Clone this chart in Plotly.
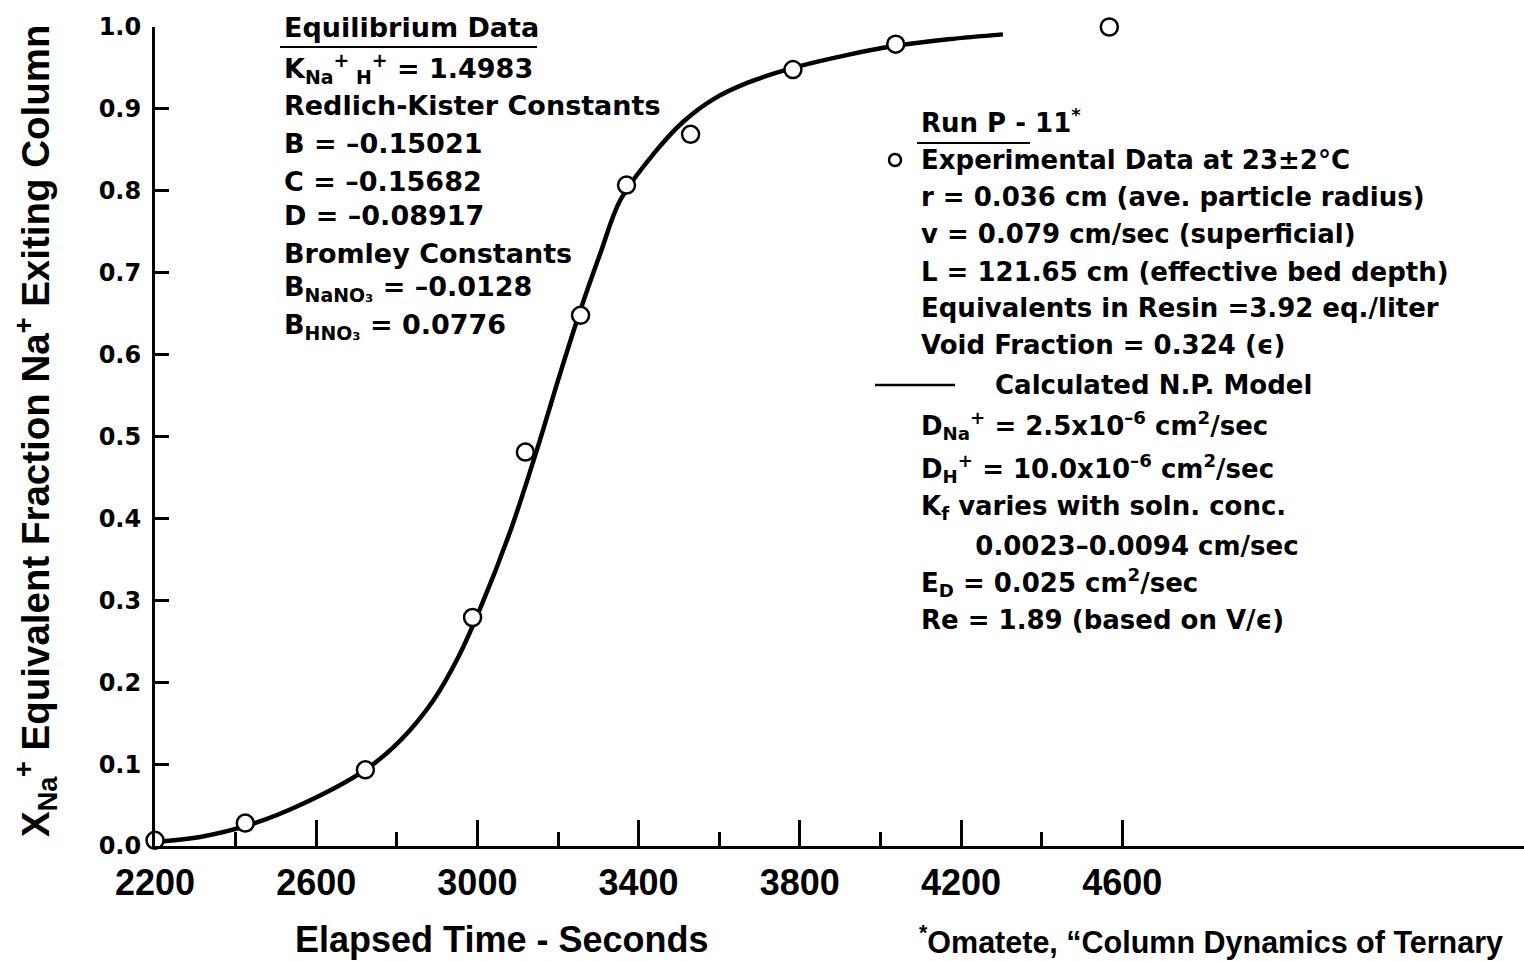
import plotly.graph_objects as go

# experimental breakthrough points (Run P-11)
exp_time = [2200, 2424, 2722, 2988, 3119, 3256, 3370, 3529, 3783, 4038, 4568]
exp_frac = [0.007, 0.028, 0.093, 0.279, 0.481, 0.648, 0.807, 0.869, 0.948, 0.979, 1.0]

# calculated N.P. model curve
calc_time = [2200, 2312, 2436, 2560, 2722, 2809, 2891, 2953, 3007, 3082, 3144, 3206,
             3254, 3306, 3355, 3437, 3510, 3586, 3671, 3783, 3919, 4038, 4168, 4304]
calc_frac = [0.005, 0.011, 0.026, 0.050, 0.093, 0.129, 0.178, 0.231, 0.290, 0.385, 0.478, 0.578,
             0.652, 0.725, 0.789, 0.845, 0.884, 0.912, 0.932, 0.950, 0.966, 0.977, 0.985, 0.991]

x_major = [2200, 2600, 3000, 3400, 3800, 4200, 4600]
x_minor = [2400, 2800, 3200, 3600, 4000, 4400]
y_ticks = [0.0, 0.1, 0.2, 0.3, 0.4, 0.5, 0.6, 0.7, 0.8, 0.9, 1.0]

eq_title = "Equilibrium Data"
eq_lines = [
    "K<sub>Na</sub><sup>+</sup><sub> H</sub><sup>+</sup> = 1.4983",
    "Redlich-Kister Constants",
    "B = –0.15021",
    "C = –0.15682",
    "D = –0.08917",
    "Bromley Constants",
    "B<sub>NaNO₃</sub> = –0.0128",
    "B<sub>HNO₃</sub> = 0.0776",
]

run_title = "Run P - 11<sup>*</sup>"
run_lines = [
    "Experimental Data at 23±2°C",
    "r = 0.036 cm (ave. particle radius)",
    "v = 0.079 cm/sec (superficial)",
    "L = 121.65 cm (effective bed depth)",
    "Equivalents in Resin =3.92 eq./liter",
    "Void Fraction = 0.324 (ϵ)",
]
model_label = "Calculated N.P. Model"
model_lines = [
    "D<sub>Na</sub><sup>+</sup> = 2.5x10<sup>–6</sup> cm<sup>2</sup>/sec",
    "D<sub>H</sub><sup>+</sup> = 10.0x10<sup>–6</sup> cm<sup>2</sup>/sec",
    "K<sub>f</sub> varies with soln. conc.",
    "      0.0023–0.0094 cm/sec",
    "E<sub>D</sub> = 0.025 cm<sup>2</sup>/sec",
    "Re = 1.89 (based on V/ϵ)",
]
footnote = "<sup>*</sup>Omatete, “Column Dynamics of Ternary"

W, H = 1524, 961
L, R, T, B = 155, 0, 27, 115


def px(x):
    return (x - L) / (W - L - R)


def py(y):
    return (H - B - y) / (H - B - T)


WIDE = "DejaVu Sans"
ARIAL = "Liberation Sans"

fig = go.Figure()
fig.add_trace(go.Scatter(
    x=calc_time, y=calc_frac, mode="lines", line=dict(color="black", width=4.5, shape="spline"),
    showlegend=False, hoverinfo="skip"))
fig.add_trace(go.Scatter(
    x=exp_time, y=exp_frac, mode="markers", cliponaxis=False,
    marker=dict(symbol="circle", size=17, color="white", line=dict(color="black", width=2.5)),
    showlegend=False))

ann = []


def txt(x, y, s, size=27, family=WIDE, **kw):
    ann.append(dict(xref="paper", yref="paper", x=px(x), y=py(y), text="<b>" + s + "</b>",
                    showarrow=False, xanchor="left", yanchor="middle",
                    font=dict(family=family, size=size, color="black"), **kw))


txt(282, 27, eq_title)
for i, s in enumerate(eq_lines):
    txt(282, [68, 106, 143, 181, 216, 253, 288, 326][i], s)

txt(919, 121, run_title, size=26)
for i, s in enumerate(run_lines):
    txt(919, [160, 197, 234, 272, 308, 345][i], s, size=26)
txt(993, 385, model_label, size=26)
for i, s in enumerate(model_lines):
    txt(919, [425, 468, 507, 546, 582, 620][i], s, size=26)

# axis titles and footnote
ann.append(dict(xref="paper", yref="paper", x=px(501), y=py(939), showarrow=False,
                text="<b>Elapsed Time - Seconds</b>", xanchor="center", yanchor="middle",
                font=dict(family=ARIAL, size=36, color="black")))
ann.append(dict(xref="paper", yref="paper", x=px(36), y=py(431), showarrow=False, textangle=-90,
                text="<b>X<sub>Na</sub><sup>+</sup> Equivalent Fraction Na<sup>+</sup> Exiting Column</b>",
                xanchor="center", yanchor="middle",
                font=dict(family=ARIAL, size=38.5, color="black")))
ann.append(dict(xref="paper", yref="paper", x=px(917), y=py(940), showarrow=False,
                text="<b>" + footnote + "</b>", xanchor="left", yanchor="middle",
                font=dict(family=ARIAL, size=30.5, color="black")))

shapes = [
    dict(type="line", xref="paper", yref="paper", x0=px(280), x1=px(537), y0=py(47), y1=py(47),
         line=dict(color="black", width=2)),
    dict(type="line", xref="paper", yref="paper", x0=px(917), x1=px(1030), y0=py(143), y1=py(143),
         line=dict(color="black", width=2)),
    dict(type="line", xref="paper", yref="paper", x0=px(875), x1=px(955), y0=py(385), y1=py(385),
         line=dict(color="black", width=2.5)),
    dict(type="circle", xref="paper", yref="paper", xsizemode="pixel", ysizemode="pixel",
         xanchor=px(895), yanchor=py(160), x0=-6, x1=6, y0=-6, y1=6,
         line=dict(color="black", width=2.5), fillcolor="white"),
]

fig.update_layout(
    width=W, height=H,
    margin=dict(l=L, r=R, t=T, b=B),
    paper_bgcolor="white", plot_bgcolor="white",
    annotations=ann, shapes=shapes,
    xaxis=dict(range=[2200, 5597], showgrid=False, zeroline=False, showline=True,
               linecolor="black", linewidth=3, ticks="inside", ticklen=26, tickwidth=2.5,
               tickcolor="black", tickvals=x_major, ticktext=["<b>%d</b>" % v for v in x_major],
               ticklabelstandoff=3,
               minor=dict(tickvals=x_minor, ticks="inside", ticklen=14, tickwidth=2.5,
                          tickcolor="black", showgrid=False),
               tickfont=dict(family=ARIAL, size=36, color="black")),
    yaxis=dict(range=[0, 1.0], showgrid=False, zeroline=False, showline=True,
               linecolor="black", linewidth=3, ticks="inside", ticklen=14, tickwidth=2.5,
               tickcolor="black", tickvals=y_ticks, ticktext=["<b>%.1f</b>" % v for v in y_ticks],
               ticklabelstandoff=6,
               tickfont=dict(family=WIDE, size=24, color="black")),
)

# page has a default body margin; drop it so the figure sits at the top-left corner
fig.write_html("out.html", config={"displayModeBar": False},
               post_script="document.body.style.margin='0';")
